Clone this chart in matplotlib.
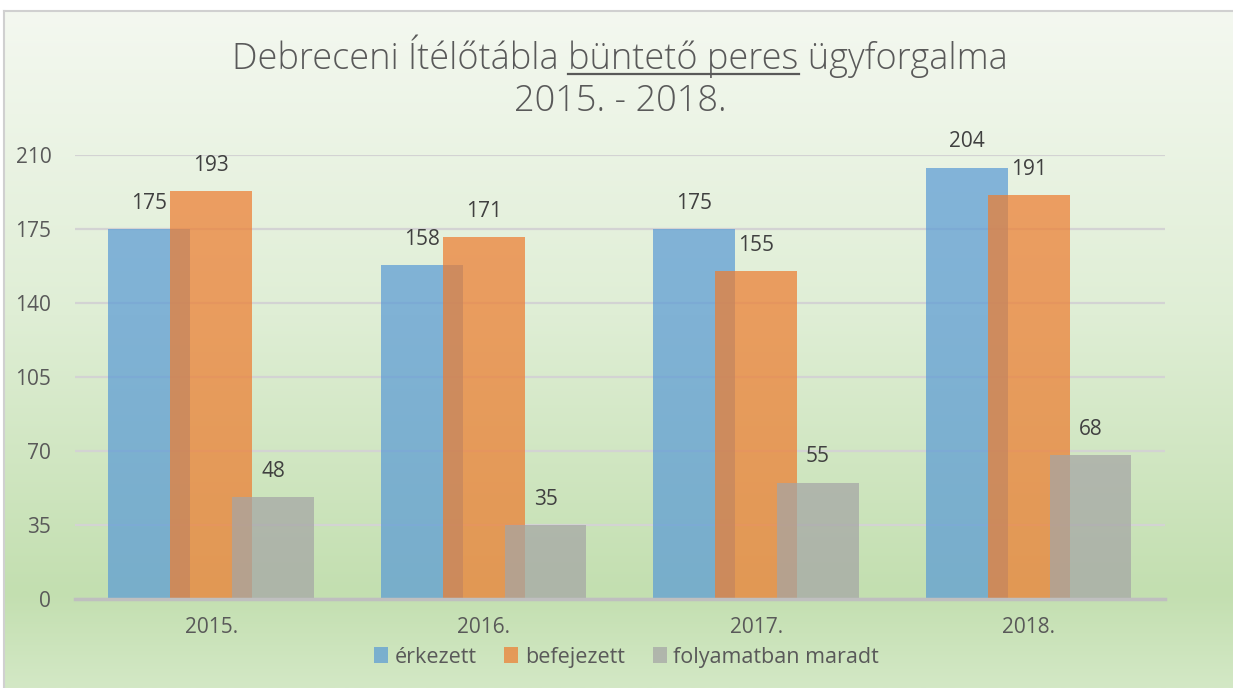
import numpy as np
import matplotlib.pyplot as plt
from matplotlib.colors import LinearSegmentedColormap

# adatok
evek = ['2015.', '2016.', '2017.', '2018.']
erkezett = [175, 158, 175, 204]
befejezett = [193, 171, 155, 191]
folyamatban = [48, 35, 55, 68]
sorozatok = ['érkezett', 'befejezett', 'folyamatban maradt']
y_tickek = [0, 35, 70, 105, 140, 175, 210]

szinek = ['#5b9bd5', '#ed7d31', '#a5a5a5']
betu = 'Open Sans'
szurke = '#595959'
cim_meret = 26

fig = plt.figure(figsize=(12.33, 6.88), dpi=100)

# háttér színátmenet
hatter = fig.add_axes([0.003, 0, 0.997, 0.984])
cmap = LinearSegmentedColormap.from_list(
    'zold', [(0, '#f4f8f0'), (0.45, '#dfeed5'), (0.86, '#c3dfb0'), (1, '#d3e8c5')])
hatter.imshow(np.linspace(0, 1, 256).reshape(-1, 1), aspect='auto', cmap=cmap,
              extent=[0, 1, 1, 0])
hatter.set_xlim(0, 1)
hatter.set_ylim(1, 0)
hatter.axis('off')
fig.add_artist(plt.Line2D([0.003, 1], [0.984, 0.984], color='#d0d0d0', lw=1.5))
fig.add_artist(plt.Line2D([0.003, 0.003], [0, 0.984], color='#d0d0d0', lw=1.5))

ax = fig.add_axes([0.0608, 0.1294, 0.8840, 0.6453])
ax.patch.set_alpha(0)

x = np.arange(len(evek))
szel = 0.30
elt = 0.227
adatok = [erkezett, befejezett, folyamatban]
for i, (nev, ertekek) in enumerate(zip(sorozatok, adatok)):
    pos = x + (i - 1) * elt
    ax.bar(pos, ertekek, width=szel, color=szinek[i], alpha=0.72, label=nev,
           zorder=3 + i, linewidth=0)
    for px_, v in zip(pos, ertekek):
        ax.annotate(str(v), (px_, v), xytext=(0, 11), textcoords='offset points',
                    ha='center', va='bottom', fontsize=15, color='#404040',
                    family=betu, zorder=10)

ax.set_xlim(-0.5, 3.5)
ax.set_ylim(0, 210)
ax.set_yticks(y_tickek)
ax.set_xticks(x)
ax.set_xticklabels(evek)
ax.grid(axis='y', color='#d3d3d3', lw=1.6, zorder=0)
ax.set_axisbelow(True)
for s in ['top', 'right', 'left']:
    ax.spines[s].set_visible(False)
ax.spines['bottom'].set_color('#bfbfbf')
ax.spines['bottom'].set_linewidth(2.5)
ax.spines['bottom'].set_zorder(8)
ax.tick_params(axis='both', length=0, labelsize=15, colors=szurke)
ax.tick_params(axis='y', pad=17)
ax.tick_params(axis='x', pad=13)
for t in ax.get_xticklabels() + ax.get_yticklabels():
    t.set_family(betu)

leg = fig.legend(loc='center', bbox_to_anchor=(0.508, 0.045), ncol=3, frameon=False,
                 prop={'family': betu, 'size': 15.5}, handlelength=0.65, handleheight=0.75,
                 handletextpad=0.3, columnspacing=1.3, labelcolor=szurke)

# cím, aláhúzással
sor1 = 'Debreceni Ítélőtábla büntető peres ügyforgalma'
cim_kw = dict(fontsize=cim_meret, color=szurke, family=betu, fontweight='light',
              ha='center', va='center')
t1 = fig.text(0.503, 0.918, sor1, **cim_kw)
fig.text(0.503, 0.853, '2015. - 2018.', **cim_kw)

fig.canvas.draw()
r = fig.canvas.get_renderer()


def szelesseg(s):
    tt = fig.text(0, 0, s, fontsize=cim_meret, family=betu, fontweight='light')
    w = tt.get_window_extent(r).width
    tt.remove()
    return w


bb = t1.get_window_extent(r)
x0 = bb.x0 + szelesseg('Debreceni Ítélőtábla b') - szelesseg('b')
x1 = bb.x0 + szelesseg('Debreceni Ítélőtábla büntető peres')
W, H = fig.bbox.width, fig.bbox.height
y_al = bb.y0 + 4
fig.add_artist(plt.Line2D([x0 / W, x1 / W], [y_al / H, y_al / H], color=szurke, lw=1.6))

fig.savefig('out.png', dpi=100)
